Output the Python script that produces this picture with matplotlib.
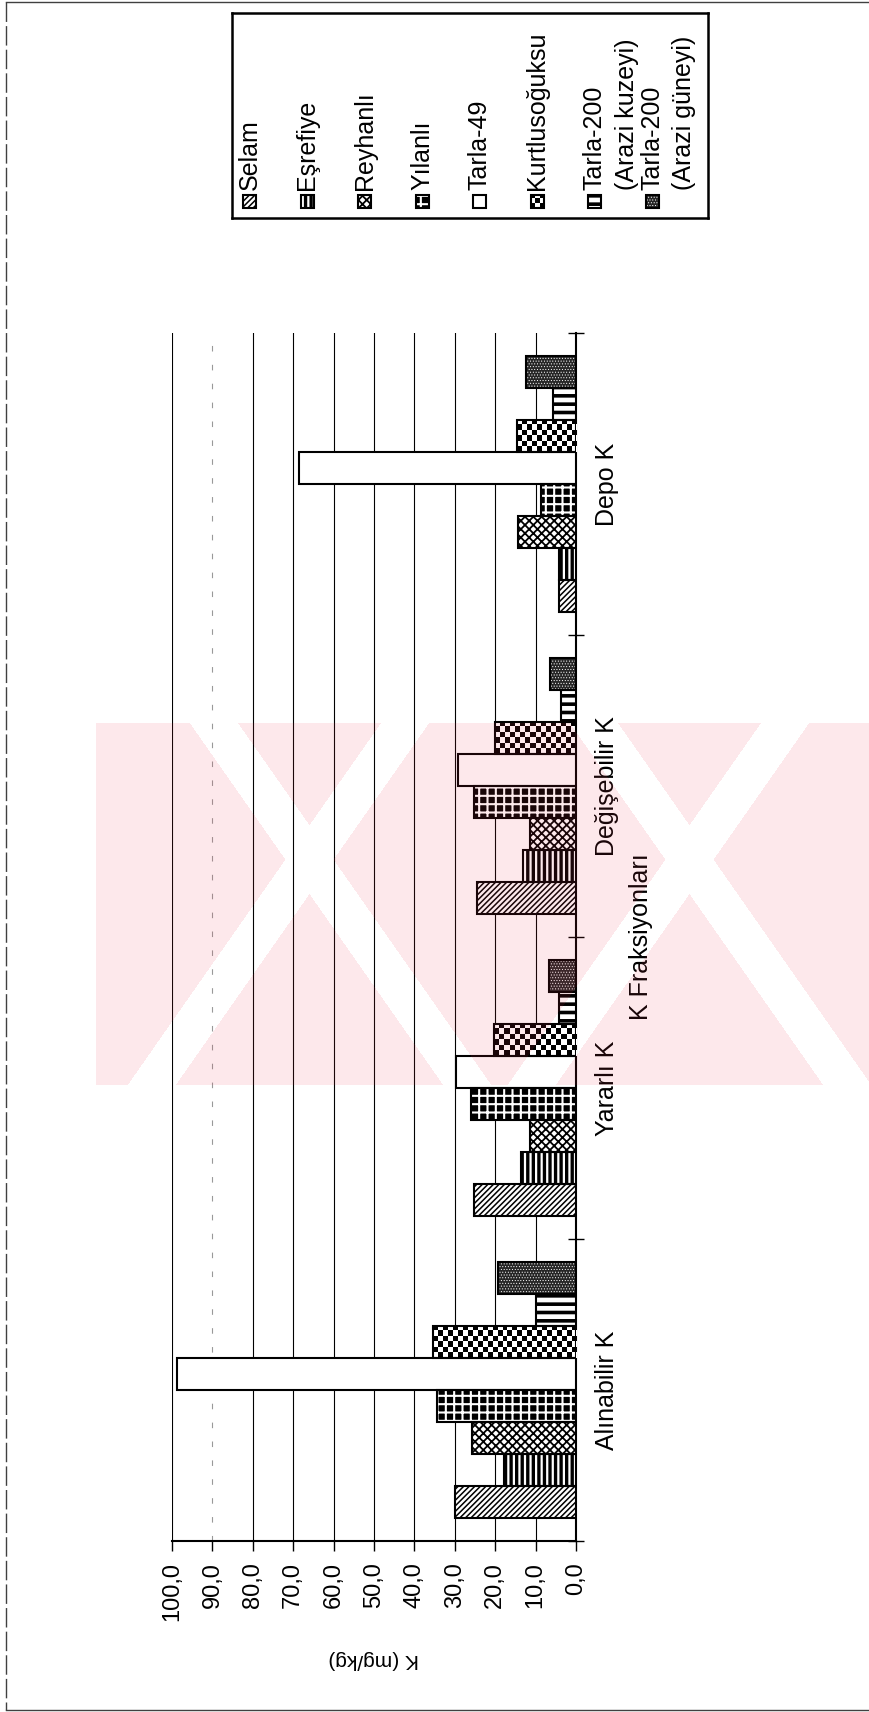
import numpy as np
import matplotlib
matplotlib.use("Agg")
import matplotlib.pyplot as plt
from matplotlib.patches import Rectangle
from matplotlib.lines import Line2D

# K fractions (category axis) and sampling sites (series)
FRACTIONS = ["Alınabilir K", "Yararlı K", "Değişebilir K", "Depo K"]
SITES = [
    "Selam",
    "Eşrefiye",
    "Reyhanlı",
    "Yılanlı",
    "Tarla-49",
    "Kurtlusoğuksu",
    "Tarla-200\n(Arazi kuzeyi)",
    "Tarla-200\n(Arazi güneyi)",
]

# K (mg/kg) per site, in FRACTIONS order
selam = [30.0, 25.2, 24.6, 4.3]
esrefiye = [17.8, 13.5, 13.1, 4.1]
reyhanli = [25.7, 11.5, 11.4, 14.3]
yilanli = [34.5, 26.0, 25.2, 8.6]
tarla_49 = [98.7, 29.8, 29.2, 68.5]
kurtlusoguksu = [35.4, 20.4, 20.0, 14.7]
tarla_200_kuzey = [9.9, 4.1, 3.7, 5.7]
tarla_200_guney = [19.4, 6.8, 6.5, 12.4]

K_TICKS = [0, 10, 20, 30, 40, 50, 60, 70, 80, 90, 100]
K_TICK_LABELS = ["0,0", "10,0", "20,0", "30,0", "40,0", "50,0",
                 "60,0", "70,0", "80,0", "90,0", "100,0"]

# fill, hatch colour, hatch, hatch line width (pt)
STYLES = [
    ("white", "black", "//////", 1.1),
    ("black", "white", "|||", 1.6),
    ("white", "black", "xxxx", 1.3),
    ("black", "white", "++", 1.5),
    ("white", "black", None, 1.0),
    ("checker", None, None, 1.0),
    ("white", "black", "--", 2.6),
    ("#262626", "white", "......", 0.4),
]

W, H = 869, 1712
BAR_H = 0.106
CELL_PX = 5.0

plt.rcParams["font.family"] = ["Liberation Sans", "DejaVu Sans"]
plt.rcParams["hatch.linewidth"] = 1.6


def box(x0, y0, x1, y1):
    return [x0 / W, 1 - y1 / H, (x1 - x0) / W, (y1 - y0) / H]


def checker(ax, x0, y0, w, h, px_x, px_y, zorder):
    nx = max(1, int(round(abs(w) * px_x / CELL_PX)))
    ny = max(1, int(round(abs(h) * px_y / CELL_PX)))
    cells = np.add.outer(np.arange(ny), np.arange(nx)) % 2
    ax.imshow(cells, cmap="gray", vmin=0, vmax=1, extent=(x0, x0 + w, y0, y0 + h),
              aspect="auto", interpolation="nearest", zorder=zorder)


def styled_rect(ax, x, y, w, h, style, px_x, px_y, zorder=3):
    face, hcolor, hatch, hlw = style
    if face == "checker":
        checker(ax, x, y, w, h, px_x, px_y, zorder)
    else:
        p = Rectangle((x, y), w, h, facecolor=face, edgecolor=hcolor or "none",
                      hatch=hatch, linewidth=0, zorder=zorder)
        if hasattr(p, "set_hatch_linewidth"):
            p.set_hatch_linewidth(hlw)
        ax.add_patch(p)
    ax.add_patch(Rectangle((x, y), w, h, fill=False, edgecolor="black",
                           linewidth=1.5, zorder=zorder + 1))


def watermark():
    # faint red crossed bands over the middle of the page
    yy, xx = np.mgrid[0:H, 0:W].astype(float)
    band = (xx > 95) & (yy > 722) & (yy < 1085)
    t = (yy - 722) * 0.7
    for x0 in (213, 593):
        band &= np.abs(xx - (x0 + t)) > 24
    for x0 in (405, 785):
        band &= np.abs(xx - (x0 - t)) > 24
    rgba = np.zeros((H, W, 4))
    rgba[..., :3] = (0.93, 0.2, 0.3)
    rgba[..., 3] = 0.11 * band
    fig.figimage(rgba, xo=0, yo=0, origin="upper", zorder=10)


fig = plt.figure(figsize=(W / 100, H / 100), dpi=100)
ax = fig.add_axes(box(172, 333, 576, 1541))
ax.set_xlim(100, 0)
ax.set_ylim(-0.5, 3.5)
px_x = ax.bbox.width / 100
px_y = ax.bbox.height / 4

series = [selam, esrefiye, reyhanli, yilanli, tarla_49,
          kurtlusoguksu, tarla_200_kuzey, tarla_200_guney]
pos = np.arange(len(FRACTIONS))
for i, (vals, style) in enumerate(zip(series, STYLES)):
    centers = pos + (i - (len(series) - 1) / 2) * BAR_H
    for c, v in zip(centers, vals):
        styled_rect(ax, 0, c - BAR_H / 2, v, BAR_H, style, px_x, px_y)

ax.set_xlim(100, 0)
ax.set_ylim(-0.5, 3.5)

ax.set_xticks(K_TICKS)
ax.set_xticklabels(K_TICK_LABELS, rotation=90)
ax.tick_params(axis="x", direction="out", length=7, width=1, pad=8, labelsize=17)

ax.yaxis.tick_right()
ax.set_yticks(pos)
ax.set_yticklabels(FRACTIONS, rotation=90, va="center")
ax.set_yticks(np.arange(-0.5, len(FRACTIONS)), minor=True)
ax.tick_params(axis="y", which="major", length=0, pad=14, labelsize=18)
ax.tick_params(axis="y", which="minor", direction="inout", length=12, width=1)

for side in ["top", "left"]:
    ax.spines[side].set_visible(False)
ax.spines["bottom"].set_linewidth(1.5)
ax.spines["right"].set_linewidth(1.5)

ax.grid(axis="x", color="black", linewidth=0.8)
ax.get_xgridlines()[9].set(color="0.6", linestyle=(0, (5, 12)))
ax.set_axisbelow(True)

ax.set_xlabel("K (mg/kg)", rotation=180, fontsize=15, va="center")
ax.xaxis.set_label_coords(0.5, -0.0985)
ax.yaxis.set_label_position("right")
ax.set_ylabel("K Fraksiyonları", rotation=90, fontsize=18, va="center", ha="center")
ax.yaxis.set_label_coords((641 - 172) / 404, 0.5)

# legend, drawn in its own pixel-scaled box
lax = fig.add_axes(box(232, 13, 708, 218))
lax.set_xlim(0, 476)
lax.set_ylim(205, 0)
lax.set_xticks([])
lax.set_yticks([])
for s in lax.spines.values():
    s.set_linewidth(1.8)
for i, (name, style) in enumerate(zip(SITES, STYLES)):
    x = 18 + 57.5 * i
    styled_rect(lax, x - 6.5, 181.5, 13, 13, style, 1, 1)
    for j, line in enumerate(name.split("\n")):
        lax.text(x + 32 * j, 177, line, rotation=90, rotation_mode="anchor",
                 ha="left", va="center", fontsize=18)
lax.set_xlim(0, 476)
lax.set_ylim(205, 0)

# page frame
frame = dict(color="0.25", linewidth=1.0, transform=fig.transFigure)
fig.add_artist(Line2D([6 / W, 6 / W], [1 - 2 / H, 1 - 1710 / H],
                      linestyle=(0, (14, 3)), **frame))
fig.add_artist(Line2D([6 / W, 1], [1 - 2 / H, 1 - 2 / H], **frame))
fig.add_artist(Line2D([6 / W, 1], [1 - 1710 / H, 1 - 1710 / H], **frame))

watermark()

fig.savefig("out.png", dpi=100)
